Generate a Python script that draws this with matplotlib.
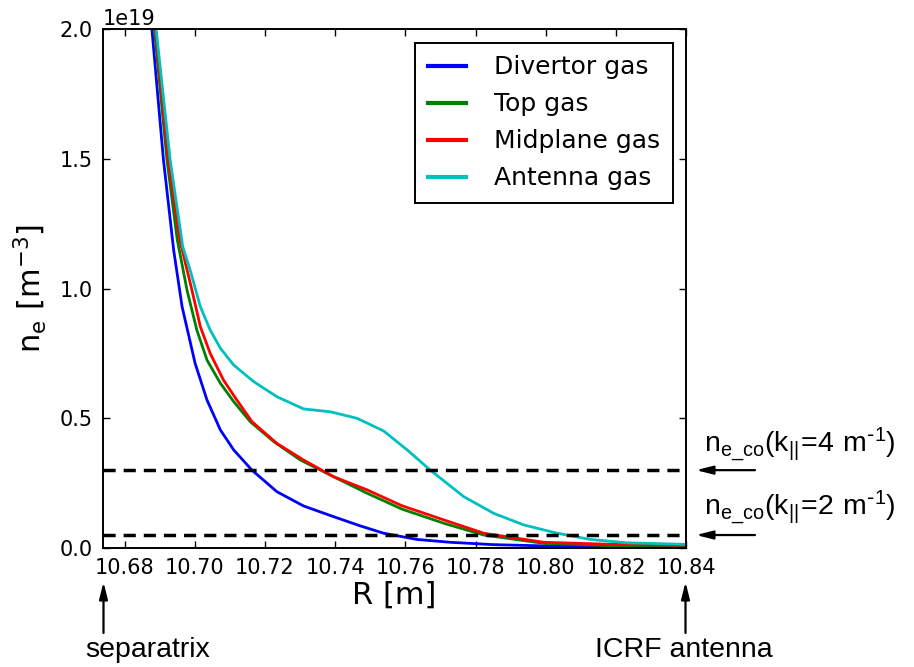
import matplotlib
matplotlib.use("Agg")
import matplotlib.pyplot as plt
import numpy as np

# ---- data (density in units of 1e19 m^-3) ----
R_div = [10.6878, 10.6911, 10.6940, 10.6964, 10.7001, 10.7035, 10.7073, 10.7111, 10.7163,
         10.7234, 10.7310, 10.7395, 10.7472, 10.7538, 10.7633, 10.7728, 10.7850, 10.8000,
         10.8200, 10.8400]
n_div = [2.0, 1.495, 1.148, 0.93, 0.712, 0.570, 0.455, 0.378, 0.30,
         0.217, 0.162, 0.121, 0.085, 0.057, 0.033, 0.022, 0.013, 0.008,
         0.005, 0.004]

R_top = [10.6885, 10.6921, 10.6950, 10.6978, 10.7006, 10.7035, 10.7073, 10.7111, 10.7158,
         10.7225, 10.7301, 10.7395, 10.7491, 10.7590, 10.7710, 10.7823, 10.7994, 10.8200,
         10.8400]
n_top = [2.0, 1.495, 1.19, 0.994, 0.84, 0.724, 0.635, 0.564, 0.487,
         0.41, 0.339, 0.275, 0.211, 0.150, 0.095, 0.05, 0.018, 0.008,
         0.005]

R_mid = [10.6888, 10.6925, 10.6957, 10.6992, 10.7016, 10.7044, 10.7082, 10.7120, 10.7163,
         10.7234, 10.7310, 10.7395, 10.7491, 10.7590, 10.7710, 10.7823, 10.7994, 10.8193,
         10.8400]
n_mid = [2.0, 1.495, 1.19, 0.994, 0.853, 0.75, 0.647, 0.57, 0.487,
         0.403, 0.339, 0.275, 0.224, 0.163, 0.108, 0.057, 0.022, 0.014,
         0.011]

R_ant = [10.6890, 10.6930, 10.6966, 10.6987, 10.7016, 10.7044, 10.7073, 10.7111, 10.7168,
         10.7234, 10.7310, 10.7386, 10.7462, 10.7538, 10.7605, 10.7671, 10.7766, 10.7851,
         10.7937, 10.8032, 10.8127, 10.8231, 10.8400]
n_ant = [2.0, 1.495, 1.16, 1.071, 0.93, 0.84, 0.77, 0.705, 0.641,
         0.583, 0.536, 0.525, 0.50, 0.451, 0.378, 0.30, 0.198, 0.134,
         0.089, 0.057, 0.033, 0.020, 0.014]

series_labels = ["Divertor gas", "Top gas", "Midplane gas", "Antenna gas"]
series_colors = ["#0000ff", "#008000", "#ff0000", "#00bfbf"]

cutoff_values = [0.3, 0.05]  # 1e19 m^-3
cutoff_labels = [r"$\mathregular{n_{e\_co}(k_{||}\!=\!4\ m^{\text{-}1})}$",
                 r"$\mathregular{n_{e\_co}(k_{||}\!=\!2\ m^{\text{-}1})}$"]

xticks = [10.68, 10.70, 10.72, 10.74, 10.76, 10.78, 10.80, 10.82, 10.84]
yticks = [0.0, 0.5, 1.0, 1.5, 2.0]

SCALE = 1e19

fig = plt.figure(figsize=(9.14, 6.67), dpi=100)
ax = fig.add_axes([0.1124, 0.1784, 0.6385, 0.7781])

for R, n, lab, col in zip([R_div, R_top, R_mid, R_ant],
                          [n_div, n_top, n_mid, n_ant],
                          series_labels, series_colors):
    ax.plot(R, np.array(n) * SCALE, color=col, lw=2.0, label=lab)

for v in cutoff_values:
    ax.axhline(v * SCALE, color="k", lw=2.5, dashes=[3.5, 2.3])

ax.set_xlim(10.6738, 10.84)
ax.set_ylim(0, 2.0 * SCALE)
ax.set_xticks(xticks)
ax.set_xticklabels(["%.2f" % t for t in xticks])
ax.set_yticks([t * SCALE for t in yticks])

ax.tick_params(direction="in", top=True, right=True, length=5, width=1,
               labelsize=15, pad=7)
ax.yaxis.get_offset_text().set_fontsize(15)
for s in ax.spines.values():
    s.set_linewidth(1.4)

ax.set_xlabel("R [m]", fontsize=22, labelpad=2)
ax.set_ylabel(r"$\mathregular{n_e\ [m^{-3}]}$", fontsize=22, labelpad=8)

leg = ax.legend(loc="upper right", fontsize=18, handlelength=1.55,
                handletextpad=1.1, labelspacing=0.52, borderaxespad=0.55,
                borderpad=0.5, fancybox=False, framealpha=1.0, edgecolor="k")
leg.get_frame().set_linewidth(1.4)
for h in leg.get_lines():
    h.set_linewidth(3)

afont = dict(family=["Liberation Sans", "DejaVu Sans"], fontsize=20.5)
arrow = dict(arrowstyle="-|>,head_length=1.0,head_width=0.25", lw=1.6,
             color="k", shrinkA=0, shrinkB=0)

# cutoff annotations on the right
text_y_px = [444, 507]
for v, lab, ty in zip(cutoff_values, cutoff_labels, text_y_px):
    ax.annotate("", xy=(696 / 914, v * SCALE), xycoords=("figure fraction", "data"),
                xytext=(755 / 914, v * SCALE), textcoords=("figure fraction", "data"),
                arrowprops=arrow, annotation_clip=False)
    fig.text(704 / 914, 1 - ty / 667, lab, ha="left", va="center", **afont)

# separatrix / antenna annotations below
for xpx in [103.5, 685.5]:
    ax.annotate("", xy=(xpx / 914, 1 - 582 / 667), xycoords="figure fraction",
                xytext=(xpx / 914, 1 - 633 / 667), textcoords="figure fraction",
                arrowprops=arrow, annotation_clip=False)
fig.text(85 / 914, 1 - 650 / 667, "separatrix", ha="left", va="center", **afont)
fig.text(684 / 914, 1 - 650 / 667, "ICRF antenna", ha="center", va="center", **afont)

fig.savefig("out.png", dpi=100)
